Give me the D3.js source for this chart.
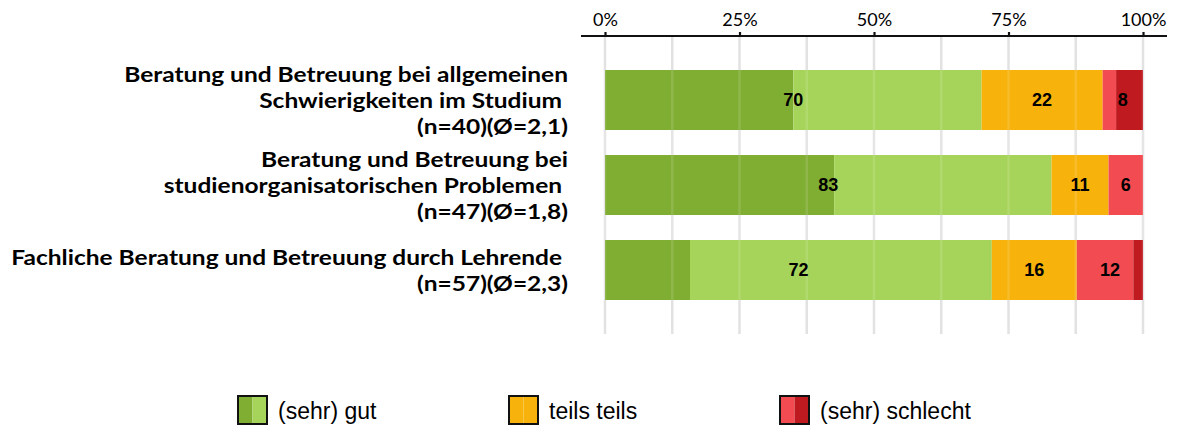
<!DOCTYPE html>
<html>

<head>
    <meta charset="UTF-8">
    <style>
        body { margin: 0; background: #fff; }
        svg { display: block; }
        .cat { font-family: Lato, sans-serif; font-weight: bold; font-size: 21.5px; fill: #000; white-space: pre; }
        .tick text { font-family: Lato, sans-serif; font-size: 18px; fill: #000; }
        .val { font-family: "Liberation Sans", Arial, sans-serif; font-weight: bold; font-size: 18px; fill: #000; }
        .leg { font-family: "Liberation Sans", Arial, sans-serif; font-size: 23px; fill: #000; }
    </style>
</head>

<body>
    <svg></svg>
    <script src="https://d3js.org/d3.v7.min.js"></script>

    <script>

        let width = 1181, height = 428;

        // data (percent)
        let categories = [
            ["Beratung und Betreuung bei allgemeinen", "Schwierigkeiten im Studium ", "(n=40)(Ø=2,1)"],
            ["Beratung und Betreuung bei", "studienorganisatorischen Problemen ", "(n=47)(Ø=1,8)"],
            ["Fachliche Beratung und Betreuung durch Lehrende ", "(n=57)(Ø=2,3)"]
        ];
        let sehrGut = [35, 42.6, 15.8];
        let gut = [35, 40.4, 56.1];
        let teils = [22.5, 10.6, 15.8];
        let schlecht = [2.5, 6.4, 10.5];
        let sehrSchlecht = [5, 0, 1.8];

        let gutLabels = ["70", "83", "72"];
        let teilsLabels = ["22", "11", "16"];
        let schlechtLabels = ["8", "6", "12"];

        let xTicks = [0, 25, 50, 75, 100];
        let gridTicks = [0, 12.5, 25, 37.5, 50, 62.5, 75, 87.5, 100];

        let seriesKeys = ["sehrGut", "gut", "teils", "schlecht", "sehrSchlecht"];
        let seriesColors = ["#80ae33", "#a6d45a", "#f7b20c", "#f24b51", "#bf1a20"];

        let legendItems = [
            { label: "(sehr) gut", colors: ["#80ae33", "#a6d45a"] },
            { label: "teils teils", colors: ["#f7b20c", "#f7b20c"] },
            { label: "(sehr) schlecht", colors: ["#f24b51", "#bf1a20"] }
        ];

        let svg = d3.select("svg")
            .attr("width", width)
            .attr("height", height);

        let rows = categories.map((c, i) => ({
            i: i,
            sehrGut: sehrGut[i], gut: gut[i], teils: teils[i],
            schlecht: schlecht[i], sehrSchlecht: sehrSchlecht[i]
        }));

        let stacked = d3.stack().keys(seriesKeys)(rows);

        let x = d3.scaleLinear().domain([0, 100]).range([605, 1143]);
        let y = d3.scaleBand()
            .domain(d3.range(categories.length))
            .range([57.5, 312.5])
            .paddingInner(25 / 85)
            .paddingOuter(12.5 / 85);

        // gridlines
        svg.append("g")
            .selectAll("line")
            .data(gridTicks)
            .enter()
            .append("line")
            .attr("x1", d => x(d)).attr("x2", d => x(d))
            .attr("y1", 36).attr("y2", 334)
            .attr("stroke", "#e2e2e2")
            .attr("stroke-width", 2.5);

        // bars
        svg.append("g")
            .selectAll("g")
            .data(stacked)
            .enter()
            .append("g")
            .attr("fill", (d, i) => seriesColors[i])
            .selectAll("rect")
            .data(d => d)
            .enter()
            .append("rect")
            .attr("x", d => x(d[0]))
            .attr("y", (d, i) => y(i))
            .attr("width", d => x(d[1]) - x(d[0]))
            .attr("height", y.bandwidth());

        // faint gridlines showing through the bars
        svg.append("g")
            .selectAll("line")
            .data(gridTicks)
            .enter()
            .append("line")
            .attr("x1", d => x(d)).attr("x2", d => x(d))
            .attr("y1", 70).attr("y2", 300)
            .attr("stroke", "#fff")
            .attr("stroke-opacity", 0.12)
            .attr("stroke-width", 2.5);

        // value labels, centred on each group
        let groups = [
            { from: "sehrGut", to: "gut", labels: gutLabels },
            { from: "teils", to: "teils", labels: teilsLabels },
            { from: "schlecht", to: "sehrSchlecht", labels: schlechtLabels }
        ];
        let layer = k => stacked[seriesKeys.indexOf(k)];
        groups.forEach(g => {
            svg.append("g")
                .selectAll("text")
                .data(g.labels)
                .enter()
                .append("text")
                .attr("class", "val")
                .attr("x", (d, i) => x((layer(g.from)[i][0] + layer(g.to)[i][1]) / 2))
                .attr("y", (d, i) => y(i) + y.bandwidth() / 2)
                .attr("text-anchor", "middle")
                .attr("dominant-baseline", "central")
                .text(d => d);
        });

        // top axis
        svg.append("line")
            .attr("x1", 581).attr("x2", 1167)
            .attr("y1", 36).attr("y2", 36)
            .attr("stroke", "#111")
            .attr("stroke-width", 2.2);

        let axis = svg.append("g")
            .attr("transform", "translate(0,36)")
            .call(d3.axisTop(x)
                .tickValues(xTicks)
                .tickFormat(d => d + "%")
                .tickSize(4)
                .tickSizeOuter(0)
                .tickPadding(6));
        axis.select(".domain").remove();
        axis.selectAll(".tick line").attr("stroke", "#111").attr("stroke-width", 2.2);

        // category labels (Calibri-like proportions: slightly widened)
        let catG = svg.append("g")
            .selectAll("text")
            .data(categories)
            .enter()
            .append("text")
            .attr("class", "cat")
            .attr("text-anchor", "end")
            .attr("transform", (d, i) => "translate(568," + (y(i) + y.bandwidth() / 2) + ") scale(1.14,1)");

        catG.selectAll("tspan")
            .data(d => d.map((t, j) => ({ t: t, j: j, n: d.length })))
            .enter()
            .append("tspan")
            .attr("x", 0)
            .attr("y", d => (d.j - (d.n - 1) / 2) * 26)
            .attr("dominant-baseline", "central")
            .text(d => d.t);

        // legend
        let legendX = [238, 509, 780];
        let leg = svg.append("g")
            .selectAll("g")
            .data(legendItems)
            .enter()
            .append("g")
            .attr("transform", (d, i) => "translate(" + legendX[i] + ",396)");

        leg.append("rect").attr("x", 0).attr("y", 0).attr("width", 14.5).attr("height", 28)
            .attr("fill", d => d.colors[0]);
        leg.append("rect").attr("x", 14.5).attr("y", 0).attr("width", 14.5).attr("height", 28)
            .attr("fill", d => d.colors[1]);
        leg.append("rect").attr("x", 0).attr("y", 0).attr("width", 29).attr("height", 28)
            .attr("fill", "none").attr("stroke", "#111").attr("stroke-width", 2);

        leg.append("text")
            .attr("class", "leg")
            .attr("x", 40)
            .attr("y", 15)
            .attr("dominant-baseline", "central")
            .text(d => d.label);

    </script>
</body>

</html>
